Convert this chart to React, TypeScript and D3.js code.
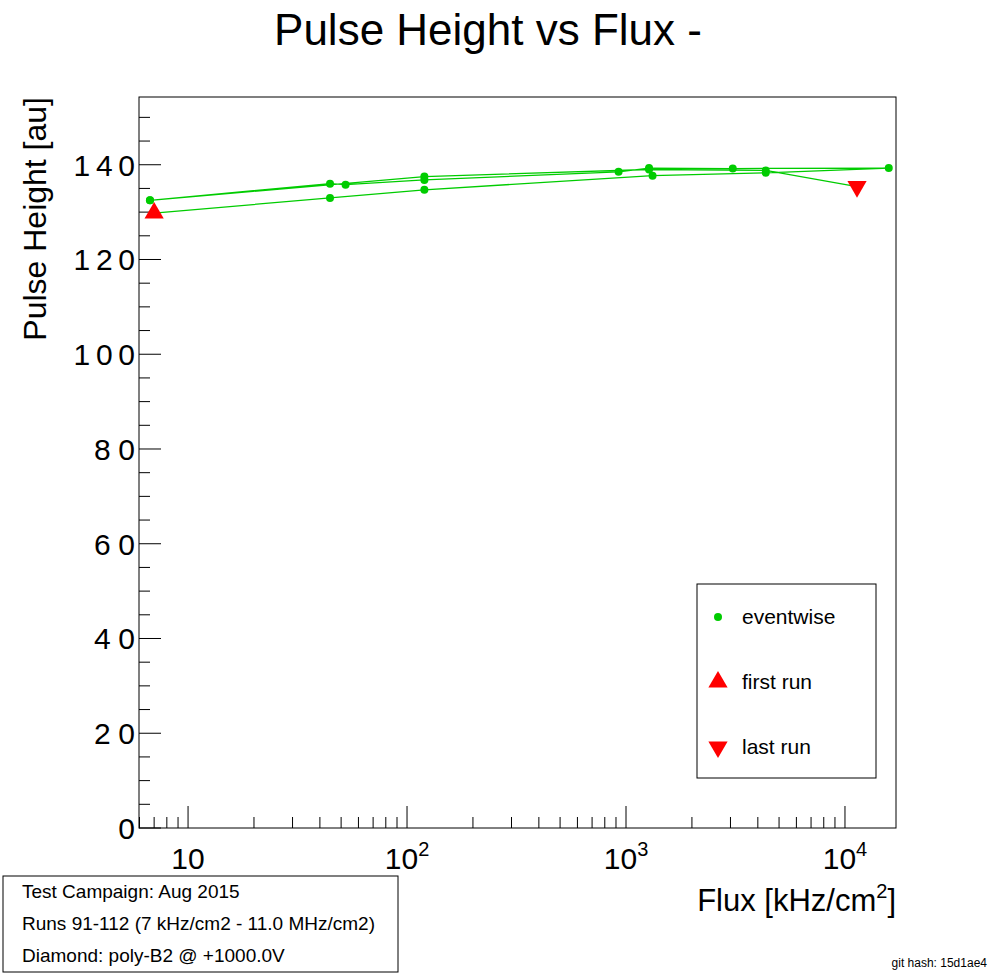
import React, { useEffect, useRef } from 'react';
import * as d3 from 'd3';

// run order of the eventwise measurements
const fluxes = [7, 44.5, 120, 1322, 4345, 15850, 3073, 1274, 925, 120, 52.4, 44.5, 6.7, 120, 1274, 4345, 11350];
const heights = [129.8, 133.0, 134.7, 137.7, 138.3, 139.3, 139.2, 139.3, 138.5, 136.8, 135.8, 136.0, 132.5, 137.5, 139.0, 138.8, 135.4];
const yTicks = [0, 20, 40, 60, 80, 100, 120, 140];
const xMajor = [10, 100, 1000, 10000];
const infoLines = ['Test Campaign: Aug 2015', 'Runs 91-112 (7 kHz/cm2 - 11.0 MHz/cm2)', 'Diamond: poly-B2 @ +1000.0V'];
const legendLabels = ['eventwise', 'first run', 'last run'];

const App: React.FC = () => {
  const svgRef = useRef<SVGSVGElement>(null);

  useEffect(() => {
    if (!svgRef.current) return;
    const W = 996, H = 974;
    const L = 139, R = 896, T = 97, B = 828;
    const svg = d3.select(svgRef.current);
    svg.selectAll('*').remove();
    svg.attr('width', W).attr('height', H).style('font-family', 'Liberation Sans, Arial, sans-serif');
    svg.append('rect').attr('width', W).attr('height', H).attr('fill', '#fff');

    const x = d3.scaleLog().domain([5.97, 17100]).range([L, R]);
    const y = d3.scaleLinear().domain([0, 154.3]).range([B, T]);

    svg.append('rect').attr('x', L).attr('y', T).attr('width', R - L).attr('height', B - T)
      .attr('fill', 'none').attr('stroke', '#000');

    // y ticks
    for (let v = 0; v <= 150; v += 5) {
      const major = v % 20 === 0;
      svg.append('line').attr('x1', L).attr('x2', L + (major ? 22 : 11))
        .attr('y1', y(v)).attr('y2', y(v)).attr('stroke', '#000');
    }
    yTicks.forEach(v => {
      svg.append('text').attr('x', L - 4).attr('y', y(v) + 11).attr('text-anchor', 'end')
        .attr('font-size', 30).attr('textLength', String(v).length * 20.5).text(v);
    });

    // x ticks
    for (let dec = 1; dec <= 10000; dec *= 10) {
      for (let m = 1; m <= 9; m++) {
        const v = dec * m;
        if (v < 5.97 || v > 17100) continue;
        const major = m === 1;
        svg.append('line').attr('x1', x(v)).attr('x2', x(v)).attr('y1', B).attr('y2', B - (major ? 22 : 11))
          .attr('stroke', '#000');
      }
    }
    xMajor.forEach((v, i) => {
      const t = svg.append('text').attr('x', x(v)).attr('y', 869).attr('text-anchor', 'middle').attr('font-size', 30);
      t.append('tspan').text('10');
      if (i > 0) t.append('tspan').attr('dy', -13).attr('font-size', 20).text(String(i + 1));
    });

    // titles
    svg.append('text').attr('x', 488).attr('y', 45).attr('text-anchor', 'middle').attr('font-size', 44)
      .text('Pulse Height vs Flux -');
    const xl = svg.append('text').attr('x', R).attr('y', 911).attr('text-anchor', 'end').attr('font-size', 31);
    xl.append('tspan').text('Flux [kHz/cm');
    xl.append('tspan').attr('dy', -13).attr('font-size', 20).text('2');
    xl.append('tspan').attr('dy', 13).text(']');
    svg.append('text').attr('transform', `translate(46,${T}) rotate(-90)`).attr('text-anchor', 'end')
      .attr('font-size', 32).text('Pulse Height [au]');

    // data
    const pts = fluxes.map((f, i) => [x(f), y(heights[i])] as [number, number]);
    svg.append('path').attr('d', d3.line()(pts)).attr('fill', 'none').attr('stroke', '#00cc00').attr('stroke-width', 1.3);
    pts.slice(1, -1).forEach(p => {
      svg.append('circle').attr('cx', p[0]).attr('cy', p[1]).attr('r', 4).attr('fill', '#00cc00');
    });
    svg.append('circle').attr('cx', x(6.7)).attr('cy', y(132.5)).attr('r', 4).attr('fill', '#00cc00');
    const tri = d3.symbol().type(d3.symbolTriangle).size(160);
    const [fx, fy] = pts[0];
    svg.append('path').attr('d', tri()).attr('transform', `translate(${fx},${fy})`).attr('fill', '#ff0000');
    const [lx, ly] = pts[pts.length - 1];
    svg.append('path').attr('d', tri()).attr('transform', `translate(${lx},${ly}) rotate(180)`).attr('fill', '#ff0000');

    // legend
    svg.append('rect').attr('x', 697).attr('y', 584).attr('width', 179).attr('height', 194)
      .attr('fill', '#fff').attr('stroke', '#000');
    legendLabels.forEach((lab, i) => {
      const cy = 617 + i * 65;
      if (i === 0) svg.append('circle').attr('cx', 718).attr('cy', cy).attr('r', 4).attr('fill', '#00cc00');
      else svg.append('path').attr('d', tri()).attr('transform', `translate(718,${cy}) rotate(${i === 2 ? 180 : 0})`).attr('fill', '#ff0000');
      svg.append('text').attr('x', 742).attr('y', cy + 7).attr('font-size', 21).text(lab);
    });

    // info box
    svg.append('rect').attr('x', 3).attr('y', 876).attr('width', 395).attr('height', 96)
      .attr('fill', '#fff').attr('stroke', '#000');
    infoLines.forEach((s, i) => {
      svg.append('text').attr('x', 22).attr('y', 898 + i * 32).attr('font-size', 19).text(s);
    });
    svg.append('text').attr('x', 987).attr('y', 967).attr('text-anchor', 'end').attr('font-size', 12).text('git hash: 15d1ae4');
  }, []);

  return <svg ref={svgRef} style={{ position: 'absolute', left: 0, top: 0 }} />;
};

export default App;
